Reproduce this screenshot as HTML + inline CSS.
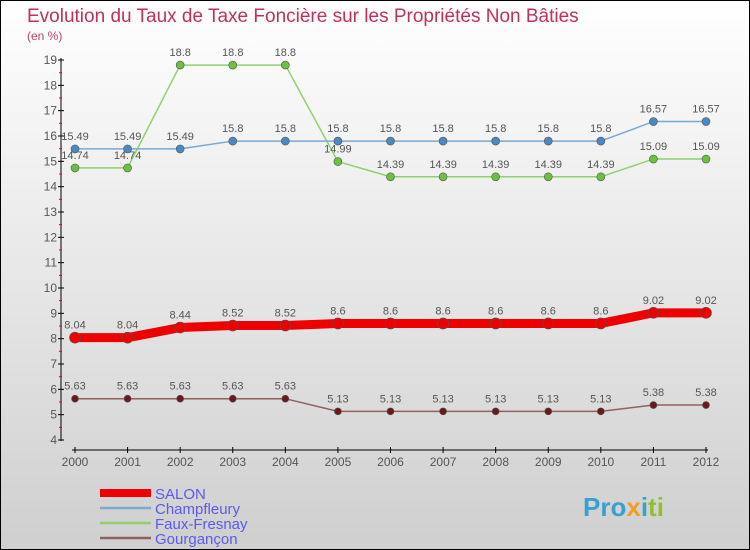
<!DOCTYPE html>
<html><head><meta charset="utf-8"><style>
body{margin:0}
svg{display:block;font-family:"Liberation Sans",sans-serif}
</style></head><body>
<svg id="c" width="750" height="550" viewBox="0 0 750 550">
<defs><linearGradient id="bg" x1="0" y1="0" x2="0" y2="1"><stop offset="0" stop-color="#ffffff"/><stop offset="1" stop-color="#cfcfcf"/></linearGradient></defs>
<rect x="0.5" y="0.5" width="749" height="549" fill="url(#bg)" stroke="#000"/>
<text x="27" y="22" font-size="19" fill="#c0305a">Evolution du Taux de Taxe Foncière sur les Propriétés Non Bâties</text>
<text x="27" y="40" font-size="12" fill="#c0406a">(en %)</text>
<g id="axes"></g>
<g id="series"></g>
<g id="legend">
<rect x="100" y="489" width="51" height="8" fill="#e00"/>
<text x="155" y="499" font-size="15" fill="#5a5aee">SALON</text>
<line x1="100" y1="508" x2="151" y2="508" stroke="#7aaad0" stroke-width="2.5"/>
<text x="155" y="514" font-size="15" fill="#5a5aee">Champfleury</text>
<line x1="100" y1="523" x2="151" y2="523" stroke="#90d070" stroke-width="2.5"/>
<text x="155" y="529" font-size="15" fill="#5a5aee">Faux-Fresnay</text>
<line x1="100" y1="538" x2="151" y2="538" stroke="#906060" stroke-width="2.5"/>
<text x="155" y="544" font-size="15" fill="#5a5aee">Gourgançon</text>
</g>
<text x="583" y="516" font-size="26" font-weight="bold"><tspan fill="#3aa0d0">Pro</tspan><tspan fill="#f0a020">x</tspan><tspan fill="#3aa0d0">i</tspan><tspan fill="#90c030">ti</tspan></text>
</svg>
<script>
const years=[2000,2001,2002,2003,2004,2005,2006,2007,2008,2009,2010,2011,2012];
const salon=[8.04,8.04,8.44,8.52,8.52,8.6,8.6,8.6,8.6,8.6,8.6,9.02,9.02];
const champfleury=[15.49,15.49,15.49,15.8,15.8,15.8,15.8,15.8,15.8,15.8,15.8,16.57,16.57];
const fauxFresnay=[14.74,14.74,18.8,18.8,18.8,14.99,14.39,14.39,14.39,14.39,14.39,15.09,15.09];
const gourgancon=[5.63,5.63,5.63,5.63,5.63,5.13,5.13,5.13,5.13,5.13,5.13,5.38,5.38];
const yTicks=[4,5,6,7,8,9,10,11,12,13,14,15,16,17,18,19];
const NS="http://www.w3.org/2000/svg";
const xs=i=>75+i*(706-75)/12;
const ys=v=>440-(v-4)*(380/15);
function mk(t,a,p){const e=document.createElementNS(NS,t);for(const k in a)e.setAttribute(k,a[k]);p.appendChild(e);return e;}
const ax=document.getElementById('axes'),sg=document.getElementById('series');
let yl=mk('line',{x1:61,y1:58,x2:61,y2:441,stroke:'#000'},ax);


yTicks.forEach(v=>{
 mk('line',{x1:58,y1:ys(v),x2:64,y2:ys(v),stroke:'#000'},ax);
 if(v<19)mk('line',{x1:59,y1:ys(v+0.5),x2:62,y2:ys(v+0.5),stroke:'#e00'},ax);
 const t=mk('text',{x:57,y:ys(v)+4,'font-size':12,fill:'#555','text-anchor':'end'},ax);t.textContent=v;
 
 
});
let xl=mk('line',{x1:72,y1:450,x2:708,y2:450,stroke:'#000'},ax);


years.forEach((y,i)=>{
 mk('line',{x1:xs(i),y1:447,x2:xs(i),y2:453,stroke:'#000'},ax);
 const t=mk('text',{x:xs(i),y:466,'font-size':12,fill:'#555','text-anchor':'middle'},ax);t.textContent=y;
 
 
});
function series(d,name,col,dot,w,r){
 const g=mk('g',{},sg);
 
 
 const p=mk('polyline',{points:d.map((v,i)=>xs(i)+','+ys(v)).join(' '),fill:'none',stroke:col,'stroke-width':w,'stroke-linejoin':'round'},g);
 
 
 d.forEach((v,i)=>{
  const c=mk('circle',{cx:xs(i),cy:ys(v),r:r,fill:dot,stroke:'#555','stroke-width':0.6},g);
  
  
  const t=mk('text',{x:xs(i),y:ys(v)-9,'font-size':11,fill:'#555','text-anchor':'middle'},g);t.textContent=v;
  
  
 });
}
series(gourgancon,'gourgancon','#906060','#6a1a1a',1.5,3.5);
series(fauxFresnay,'faux-fresnay','#90d070','#6cc040',1.5,4);
series(champfleury,'champfleury','#7aaad0','#4a8ac0',1.5,4);
series(salon,'salon','#ee0000','#ee0000',9,5.5);
</script>
</body></html>
